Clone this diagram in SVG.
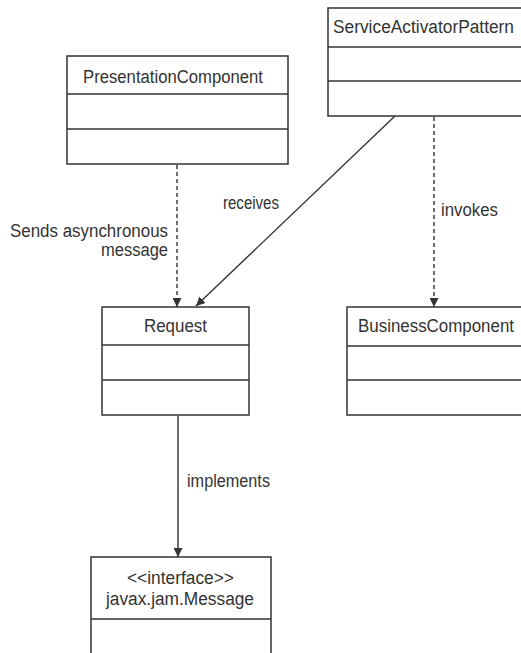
<svg xmlns="http://www.w3.org/2000/svg" width="521" height="653" viewBox="0 0 521 653">
<defs>
<style>
.box{fill:#fff;stroke:#333;stroke-width:1.5}
.div{stroke:#333;stroke-width:1.5}
.t{font-family:"Liberation Sans",Arial,sans-serif;font-size:18px;fill:#333}
.m{text-anchor:middle}
.e{text-anchor:end}
.c{stroke:#333;stroke-width:1.4;fill:none}
.d{stroke-dasharray:4 3}
</style>
<marker id="ah" viewBox="0 0 10 10" refX="10" refY="5" markerWidth="9" markerHeight="9" markerUnits="userSpaceOnUse" orient="auto">
<path d="M0,0 L10,5 L0,10 Z" fill="#333"/>
</marker>
</defs>
<rect width="521" height="653" fill="#fff"/>
<g id="connectors">
<line class="c d" x1="177" y1="165" x2="177" y2="307" marker-end="url(#ah)"/>
<line class="c" x1="395" y1="116" x2="196" y2="306" marker-end="url(#ah)"/>
<line class="c d" x1="434" y1="117" x2="434" y2="307" marker-end="url(#ah)"/>
<line class="c" x1="178" y1="416" x2="178" y2="557" marker-end="url(#ah)"/>
<text class="t" x="223" y="209" textLength="56" lengthAdjust="spacingAndGlyphs">receives</text>
<text class="t" x="441" y="216" textLength="57" lengthAdjust="spacingAndGlyphs">invokes</text>
<text class="t e" x="168" y="237" textLength="158" lengthAdjust="spacingAndGlyphs">Sends asynchronous</text>
<text class="t e" x="168" y="256" textLength="67" lengthAdjust="spacingAndGlyphs">message</text>
<text class="t" x="187" y="487" textLength="83" lengthAdjust="spacingAndGlyphs">implements</text>
</g>
<g id="ServiceActivatorPattern">
<rect class="box" x="328" y="8" width="220" height="108"/>
<line class="div" x1="328" y1="47" x2="548" y2="47"/>
<line class="div" x1="328" y1="81" x2="548" y2="81"/>
<text class="t" x="333" y="33" textLength="181" lengthAdjust="spacingAndGlyphs">ServiceActivatorPattern</text>
</g>
<g id="PresentationComponent">
<rect class="box" x="67" y="56" width="221" height="108"/>
<line class="div" x1="67" y1="94" x2="288" y2="94"/>
<line class="div" x1="67" y1="129" x2="288" y2="129"/>
<text class="t" x="83" y="83" textLength="180" lengthAdjust="spacingAndGlyphs">PresentationComponent</text>
</g>
<g id="Request">
<rect class="box" x="102" y="307" width="147" height="108"/>
<line class="div" x1="102" y1="345" x2="249" y2="345"/>
<line class="div" x1="102" y1="380" x2="249" y2="380"/>
<text class="t m" x="175.5" y="332" textLength="63" lengthAdjust="spacingAndGlyphs">Request</text>
</g>
<g id="BusinessComponent">
<rect class="box" x="347" y="307" width="200" height="108"/>
<line class="div" x1="347" y1="346" x2="547" y2="346"/>
<line class="div" x1="347" y1="380" x2="547" y2="380"/>
<text class="t" x="358" y="332" textLength="156" lengthAdjust="spacingAndGlyphs">BusinessComponent</text>
</g>
<g id="MessageInterface">
<rect class="box" x="91" y="557" width="180" height="110"/>
<line class="div" x1="91" y1="619" x2="271" y2="619"/>
<text class="t m" x="180.5" y="584" textLength="107" lengthAdjust="spacingAndGlyphs">&lt;&lt;interface&gt;&gt;</text>
<text class="t m" x="180" y="605" textLength="148" lengthAdjust="spacingAndGlyphs">javax.jam.Message</text>
</g>
</svg>
